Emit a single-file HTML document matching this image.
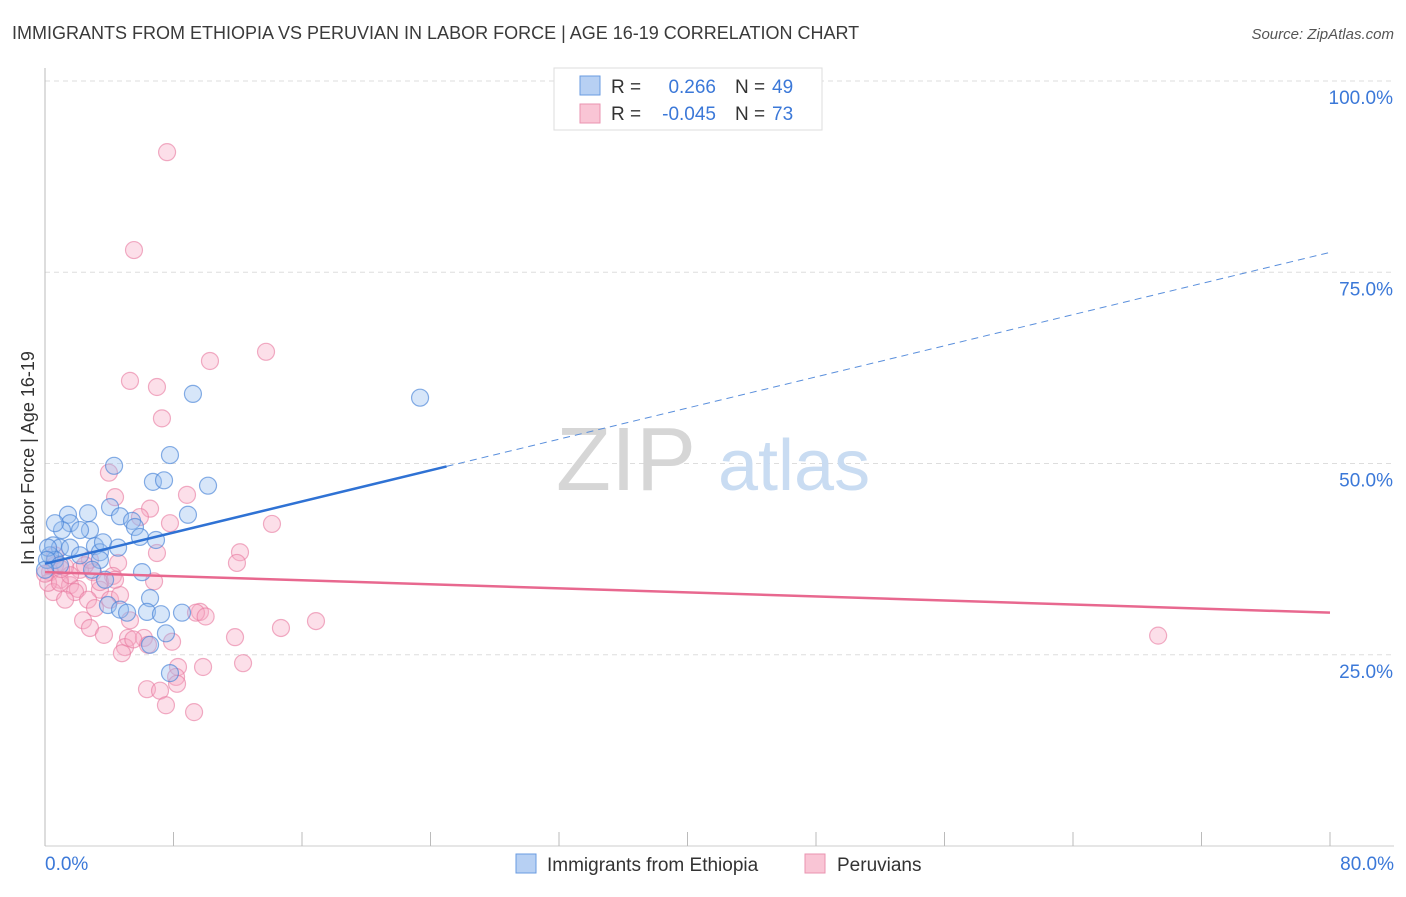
<!DOCTYPE html>
<html><head><meta charset="utf-8"><style>
body{margin:0;background:#fff;font-family:"Liberation Sans",sans-serif;}
svg text{font-family:"Liberation Sans",sans-serif;}
</style></head><body>
<svg id="chart" width="1406" height="892">
<text x="12" y="39" font-size="18" fill="#3a3a3a">IMMIGRANTS FROM ETHIOPIA VS PERUVIAN IN LABOR FORCE | AGE 16-19 CORRELATION CHART</text>
<text x="1394" y="39" font-size="15" fill="#555" font-style="italic" text-anchor="end">Source: ZipAtlas.com</text>
<g id="grid"></g>
<text x="556" y="490" font-size="90" fill="#d6d6d6" font-family="Liberation Serif">ZIP</text>
<text x="718" y="490" font-size="72" fill="#c9dcf2">atlas</text>
<g id="marks"></g>
<text x="34" y="458" font-size="18" fill="#333" text-anchor="middle" transform="rotate(-90 34 458)">In Labor Force | Age 16-19</text>
<text x="45" y="870" font-size="19" fill="#3b78d8">0.0%</text>
<text x="1394" y="870" font-size="19" fill="#3b78d8" text-anchor="end">80.0%</text>
<g>
<rect x="554" y="68" width="268" height="62" fill="#fff" stroke="#ddd"/>
<rect x="580" y="76" width="20" height="19" fill="#b7d0f3" stroke="#6a9be0"/>
<rect x="580" y="104" width="20" height="19" fill="#f9c5d5" stroke="#ea93b0"/>
<text x="611" y="93" font-size="19" fill="#333">R =</text><text x="716" y="93" font-size="19" fill="#3b78d8" text-anchor="end">0.266</text>
<text x="735" y="93" font-size="19" fill="#333">N =</text><text x="772" y="93" font-size="19" fill="#3b78d8">49</text>
<text x="611" y="120" font-size="19" fill="#333">R =</text><text x="716" y="120" font-size="19" fill="#3b78d8" text-anchor="end">-0.045</text>
<text x="735" y="120" font-size="19" fill="#333">N =</text><text x="772" y="120" font-size="19" fill="#3b78d8">73</text>
</g>
<g>
<rect x="516" y="854" width="20" height="19" fill="#b7d0f3" stroke="#6a9be0"/>
<text x="547" y="871" font-size="19" fill="#333">Immigrants from Ethiopia</text>
<rect x="805" y="854" width="20" height="19" fill="#f9c5d5" stroke="#ea93b0"/>
<text x="837" y="871" font-size="19" fill="#333">Peruvians</text>
</g>
</svg>
<script>
const yTicks=[25,50,75,100];
const yTickLabels=["25.0%","50.0%","75.0%","100.0%"];
const xTicks=[0,10,20,30,40,50,60,70,80,90,100].map(i=>i*0.8);
const blueX=[7.78,4.30,9.21,23.35,10.15,6.72,7.41,8.90,4.05,4.67,5.42,5.60,5.91,6.91,2.68,1.43,1.56,1.06,0.62,2.80,2.18,0.50,0.93,1.56,3.11,3.42,3.61,4.55,2.18,3.42,0.31,0.62,0.19,6.04,3.74,2.93,6.54,3.92,4.67,5.11,6.35,7.22,8.53,7.53,6.54,7.78,0.12,0.93,0.0];
const blueY=[51.1,49.7,59.1,58.6,47.1,47.6,47.8,43.3,44.3,43.1,42.5,41.7,40.4,40.0,43.5,43.3,42.2,41.3,42.2,41.3,41.3,39.3,39.0,39.0,39.2,38.4,39.7,39.0,38.0,37.4,38.0,37.4,39.0,35.8,34.8,36.1,32.4,31.5,30.9,30.5,30.6,30.3,30.5,27.8,26.3,22.6,37.4,36.7,36.1];
const pinkX=[7.60,5.54,13.76,10.27,5.29,6.97,7.28,3.98,8.84,4.36,6.54,5.91,7.78,14.13,12.14,6.97,11.95,4.55,4.23,6.79,2.99,2.18,1.25,0.62,0.31,0.93,1.56,2.05,3.42,1.87,0.50,0.19,2.68,4.05,3.11,4.67,5.29,2.37,2.80,3.67,5.17,6.16,6.41,7.91,4.98,4.79,9.65,9.40,11.83,14.69,16.87,69.30,8.28,9.84,12.33,8.16,6.35,7.16,8.22,7.53,9.28,0.93,0.62,1.56,2.80,3.42,1.25,4.36,2.49,0.0,1.0,5.5,10.0];
const pinkY=[90.7,77.9,64.6,63.4,60.8,60.0,55.9,48.8,45.9,45.6,44.1,43.0,42.2,42.1,38.4,38.3,37.0,37.0,35.3,34.6,35.8,36.1,36.5,36.7,35.8,34.8,34.1,33.6,33.5,33.2,33.2,34.4,32.2,32.2,31.1,32.8,29.5,29.5,28.5,27.6,27.2,27.2,26.3,26.7,26.0,25.2,30.6,30.5,27.3,28.5,29.4,27.5,23.4,23.4,23.9,22.1,20.5,20.3,21.2,18.4,17.5,34.4,38.0,35.4,37.4,34.5,32.2,34.8,36.7,35.6,36.2,27.0,30.0];
const blueTrend=[36.9,77.6];
const pinkTrend=[35.8,30.5];
const X0=45,X1=1330,Y0=846,Y100=81;
const sx=v=>X0+(v/80)*(X1-X0);
const sy=v=>Y0-(v/100)*(Y0-Y100);
const NS="http://www.w3.org/2000/svg";
const grid=document.getElementById('grid'),marks=document.getElementById('marks');
function mk(tag,attrs,parent){const e=document.createElementNS(NS,tag);for(const k in attrs)e.setAttribute(k,attrs[k]);parent.appendChild(e);return e;}
yTicks.forEach((t,i)=>{
 const l=mk('line',{x1:X0,x2:1394,y1:sy(t),y2:sy(t),stroke:'#ddd','stroke-dasharray':'5,4'},grid);
 
 
 const tx=mk('text',{x:1393,y:sy(t)+23,'font-size':19,fill:'#3b78d8','text-anchor':'end'},grid);
 tx.textContent=yTickLabels[i];
 
 
});
const ax=mk('line',{x1:X0,x2:X0,y1:68,y2:Y0,stroke:'#bbb'},grid);


const bx=mk('line',{x1:X0,x2:1394,y1:Y0,y2:Y0,stroke:'#ccc'},grid);


xTicks.forEach(t=>{
 const l=mk('line',{x1:sx(t),x2:sx(t),y1:Y0-14,y2:Y0,stroke:'#bbb'},grid);
 
 
});
pinkX.forEach((x,i)=>{
 const c=mk('circle',{cx:sx(x),cy:sy(pinkY[i]),r:8.5,fill:'rgba(246,170,196,0.38)',stroke:'rgba(232,120,158,0.6)','stroke-width':1.2},marks);
 
 
});
blueX.forEach((x,i)=>{
 const c=mk('circle',{cx:sx(x),cy:sy(blueY[i]),r:8.5,fill:'rgba(150,190,240,0.38)',stroke:'rgba(70,130,215,0.65)','stroke-width':1.2},marks);
 
 
});
const by=x=>blueTrend[0]+(blueTrend[1]-blueTrend[0])*x/80;
const bs=mk('line',{x1:sx(0),y1:sy(by(0)),x2:sx(25),y2:sy(by(25)),stroke:'#2f72d4','stroke-width':2.5},marks);


const bd=mk('line',{x1:sx(25),y1:sy(by(25)),x2:sx(80),y2:sy(by(80)),stroke:'#5a8fdc','stroke-width':1,'stroke-dasharray':'7,5'},marks);


const pl=mk('line',{x1:sx(0),y1:sy(pinkTrend[0]),x2:sx(80),y2:sy(pinkTrend[1]),stroke:'#e8688f','stroke-width':2.5},marks);


</script>
</body></html>
